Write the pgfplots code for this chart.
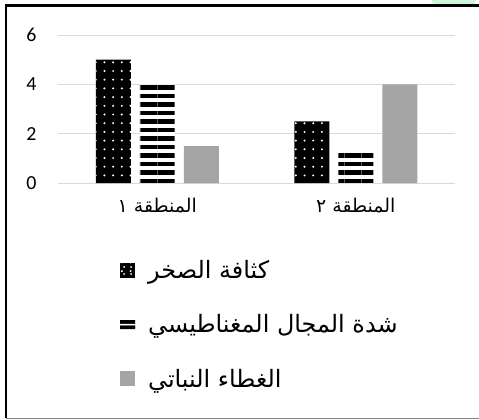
\documentclass[border=0pt]{standalone}
\usepackage{fontspec}
\usepackage{pgfplots}
\pgfplotsset{compat=1.18}
\usetikzlibrary{patterns.meta}
\setmainfont{Carlito}
\newfontfamily\arabicfont[Script=Arabic]{DejaVu Sans}
\TeXXeTstate=1
\definecolor{gridc}{HTML}{D9D9D9}
\definecolor{barg}{HTML}{A5A5A5}
\definecolor{blob}{HTML}{CDF5DA}
\begin{document}
\begin{tikzpicture}[x=1bp,y=1bp]
\useasboundingbox (0,0) rectangle (479,419);
\fill[blob, rounded corners=6bp] (432,413) rectangle (476,430);
\draw[line width=2.5bp, black] (6,1) -- (6,413.5) -- (479,413.5);
\draw[line width=1bp, gray] (6,0.8) -- (479,0.8);
\begin{axis}[
  at={(58bp,236bp)}, anchor=south west,
  scale only axis, width=397bp, height=148bp,
  xmin=-0.5, xmax=1.5, ymin=0, ymax=6,
  axis line style={draw=none}, tick style={draw=none},
  ytick={0,2,4,6}, ymajorgrids, grid style={gridc, line width=1bp},
  xtick={0,1},
  xticklabels={{\hbox{\beginR المنطقة ١\endR}},{\hbox{\beginR المنطقة ٢\endR}}},
  xticklabel style={font=\arabicfont\fontsize{19}{21}\selectfont, yshift=-12bp},
  yticklabel style={font=\fontsize{20}{22}\selectfont, xshift=-18bp},
  /pgf/number format/assume math mode=true,
  legend style={at={(0.156,-0.51)}, anchor=north west, draw=none, fill=none,
    font=\arabicfont\fontsize{24}{26}\selectfont, row sep=30.5bp, inner sep=0pt},
  legend cell align=left,
]
\addplot[ybar, bar width=35bp, bar shift=-44bp, draw=none, fill=black,
  postaction={pattern={Dots[distance=8.7bp,radius=1.1bp]},pattern color=white},
  legend image code/.code={\fill[black] (0bp,-7.5bp) rectangle (15bp,7.5bp);
    \fill[white] (4bp,-3.5bp) circle (1.1bp) (11bp,-3.5bp) circle (1.1bp) (4bp,3.5bp) circle (1.1bp) (11bp,3.5bp) circle (1.1bp);}]
  coordinates {(0,5) (1,2.5)};
\addlegendentry{\hspace*{11bp}\hbox{\beginR كثافة الصخر\endR}}
\addplot[ybar, bar width=35bp, bar shift=0bp, draw=none, fill=white,
  postaction={pattern={Lines[distance=8.5bp,line width=4.5bp,angle=0]},pattern color=black},
  legend image code/.code={\fill[black] (0bp,1bp) rectangle (15bp,4.5bp) (0bp,-4.5bp) rectangle (15bp,-1bp);}]
  coordinates {(0,4) (1,1.3)};
\addlegendentry{\hspace*{11bp}\hbox{\beginR شدة المجال المغناطيسي\endR}}
\addplot[ybar, bar width=35bp, bar shift=44bp, draw=none, fill=barg,
  legend image code/.code={\fill[barg] (0bp,-7.5bp) rectangle (15bp,7.5bp);}]
  coordinates {(0,1.5) (1,4)};
\addlegendentry{\hspace*{11bp}\hbox{\beginR الغطاء النباتي\endR}}
\end{axis}
\end{tikzpicture}
\end{document}
